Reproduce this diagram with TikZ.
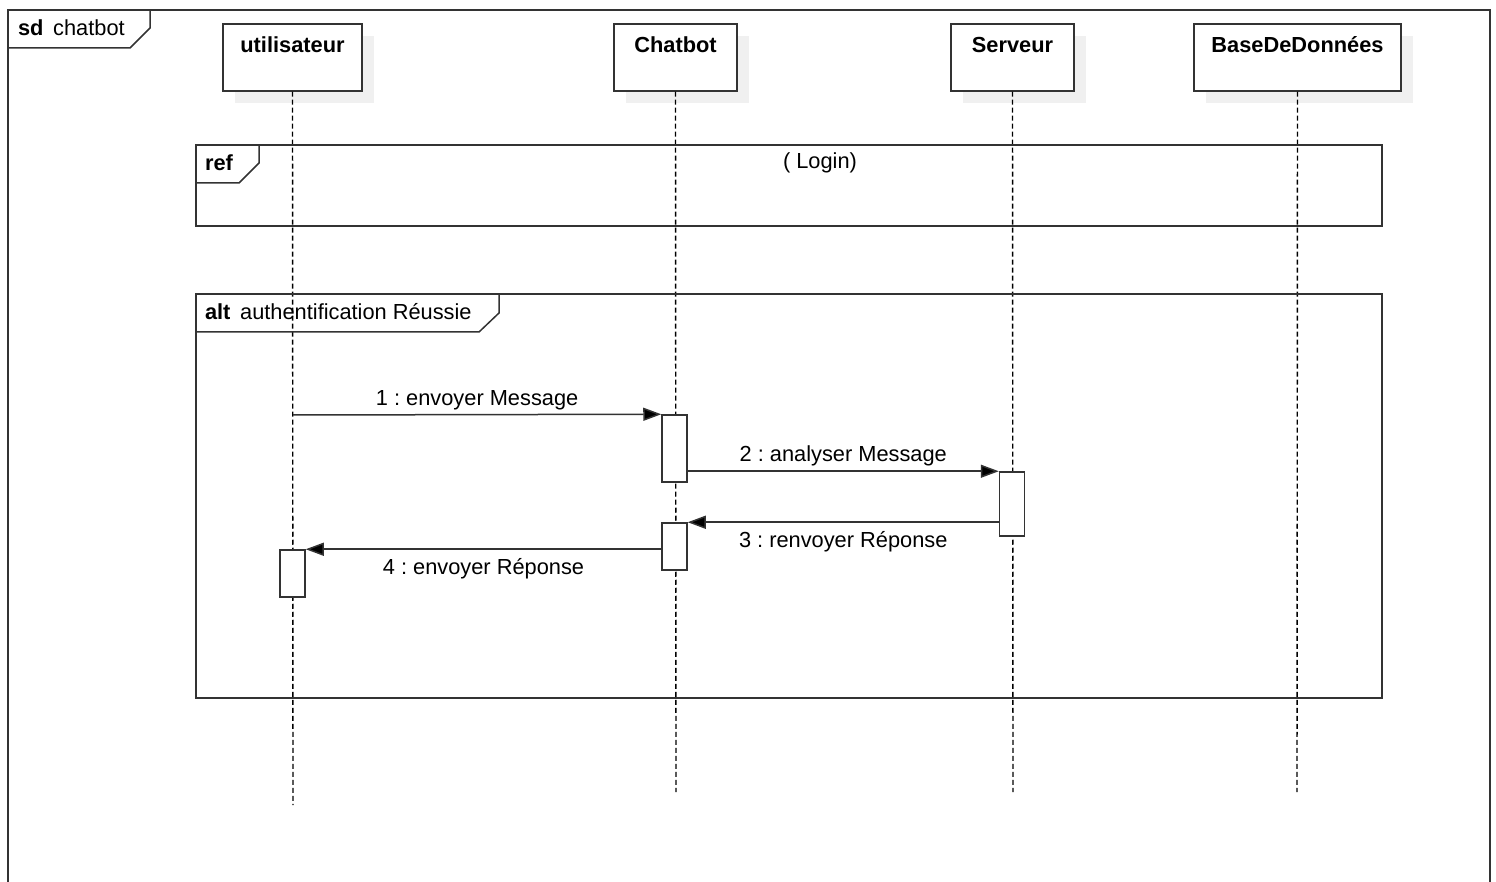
\documentclass[tikz,border=0pt]{standalone}
\usepackage{fontspec}
\setmainfont{Liberation Sans}
\usetikzlibrary{arrows.meta,shadows}
\definecolor{efefef}{rgb}{0.94,0.94,0.94}
\definecolor{qqqqqq}{rgb}{0.2,0.2,0.2}
\frenchspacing

\begin{document}
\begin{tikzpicture}[line join=miter,>={Triangle[length=9pt,width=6.5pt]},x=0.5pt,y=-0.5pt,
    font=\fontsize{10.9}{13}\selectfont,
    head/.style={draw=qqqqqq,line width=0.75pt,fill=white,inner sep=0pt,minimum height=33.5pt,
      drop shadow={shadow xshift=6pt,shadow yshift=-6pt,fill=efefef,opacity=1}},
    headtxt/.style={anchor=base,yshift=-14.4pt,font=\fontsize{10.9}{13}\selectfont\bfseries},
    lifeline/.style={black,line width=0.7pt,dash pattern=on 2.5pt off 1.5pt},
    frame/.style={draw=qqqqqq,line width=0.75pt},
    act/.style={draw=qqqqqq,line width=0.75pt,fill=white,inner sep=0pt,minimum width=12.5pt},
    msg/.style={-{Triangle[length=9pt,width=6.5pt,fill=black]},line width=0.75pt,qqqqqq},
    above msg/.style={midway,above,inner sep=2pt,black},
    below msg/.style={midway,below=1pt,black}]
      \useasboundingbox (0,0) rectangle (1496,882);
      % outer frame
      \draw[frame] (8,882) -- (8,10) -- (1490,10) -- (1490,882);
      \draw[frame] (8,48) -- (130,48) -- (150,28) -- (150,10);
      \node[anchor=west] (sdlbl) at (11,28) {\textbf{sd}\, chatbot};
      % lifelines
      \node[head,minimum width=69.5pt] (u) at (292.5,57.5) {};
      \node[head,minimum width=61.5pt] (c) at (675.5,57.5) {};
      \node[head,minimum width=61.5pt] (s) at (1012.5,57.5) {};
      \node[head,minimum width=103.5pt] (b) at (1297.5,57.5) {};
      \node[headtxt] at (u.north) {utilisateur};
      \node[headtxt] at (c.north) {Chatbot};
      \node[headtxt] at (s.north) {Serveur};
      \node[headtxt] at (b.north) {BaseDeDonnées};
      \coordinate (uend) at (293,805);
      \coordinate (cend) at (676,792);
      \coordinate (send) at (1013,792);
      \coordinate (bend) at (1297,792);
      \draw[lifeline] (u.south) -- (uend);
      \draw[lifeline] (c.south) -- (cend);
      \draw[lifeline] (s.south) -- (send);
      \draw[lifeline] (b.south) -- (bend);
      % ref
      \draw[frame] (196,145) rectangle (1382,226);
      \draw[frame] (196,183) -- (239,183) -- (259,163) -- (259,145);
      \node[anchor=west] (reflbl) at (198,163) {\textbf{ref}};
      \node (login) at (820,163) {( Login)};
      % alt
      \draw[frame] (196,294) rectangle (1382,698);
      \draw[frame] (196,332) -- (479,332) -- (499,313) -- (499,294);
      \node[anchor=west] (altlbl) at (198,312) {\textbf{alt}\, authentification Réussie};
      % activations
      \node[act,minimum height=33.5pt] (c1) at (674.5,448.5) {};
      \node[act,minimum height=32pt] (s1) at (1012,504) {};
      \node[act,minimum height=23.5pt] (c2) at (674.5,546.5) {};
      \node[act,minimum height=23.5pt] (u1) at (292.5,573.5) {};
      \coordinate (m1) at (293,415);
      % messages
      \draw[msg] (m1) -- (c1.north west) node[above msg] {1 : envoyer Message};
      \draw[msg] (c1.east |- s1.north) -- (s1.north west) node[above msg] {2 : analyser Message};
      \draw[msg] (s1.west |- c2.north) -- (c2.north east) node[below msg] {3 : renvoyer Réponse};
      \draw[msg] (c2.west |- u1.north) -- (u1.north east) node[below msg] {4 : envoyer Réponse};
\end{tikzpicture}
\end{document}
